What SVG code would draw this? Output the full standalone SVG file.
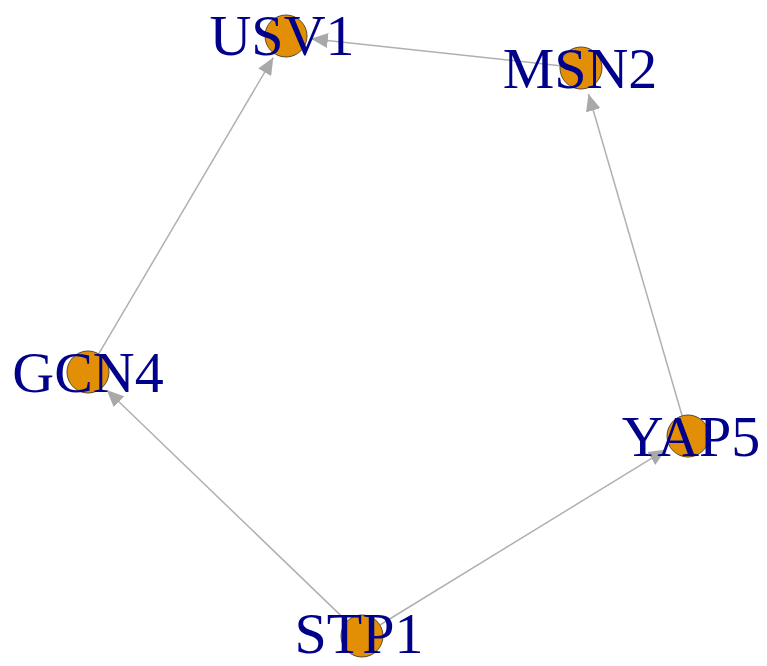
<svg xmlns="http://www.w3.org/2000/svg" width="767" height="666" viewBox="0 0 767 666">
<defs>
<style>
.edge{stroke:#B0B0B0;stroke-width:1.5;fill:none;marker-end:url(#arr)}
.node circle{fill:#E38F05;stroke:#5a4a30;stroke-width:1}
.node text{font-family:"Liberation Serif","Times New Roman",serif;font-size:58px;fill:#00008B;text-anchor:middle}
</style>
<marker id="arr" viewBox="0 0 17 15" refX="17" refY="7.5" markerWidth="17" markerHeight="15" markerUnits="userSpaceOnUse" orient="auto">
<path d="M0,0 L17,7.5 L0,15 Z" fill="#A9A9A9"/>
</marker>
</defs>
<rect width="767" height="666" fill="#ffffff"/>
<g id="edges">
<line class="edge" x1="560.1" y1="65.7" x2="310.9" y2="38.7"/>
<line class="edge" x1="98.7" y1="353.9" x2="273.3" y2="57.6"/>
<line class="edge" x1="346.9" y1="621.4" x2="106.7" y2="390"/>
<line class="edge" x1="379.9" y1="625" x2="665.8" y2="449.6"/>
<line class="edge" x1="682.1" y1="415.8" x2="588.5" y2="94"/>
</g>
<g id="USV1" class="node"><circle cx="286" cy="36" r="21"/><text x="282" y="55">USV1</text></g>
<g id="MSN2" class="node"><circle cx="581" cy="68" r="21"/><text x="580" y="88">MSN2</text></g>
<g id="GCN4" class="node"><circle cx="88" cy="372" r="21"/><text x="88" y="392">GCN4</text></g>
<g id="YAP5" class="node"><circle cx="688" cy="436" r="21"/><text x="691" y="456">YAP5</text></g>
<g id="STP1" class="node"><circle cx="362" cy="636" r="21"/><text x="359" y="653">STP1</text></g>
</svg>
